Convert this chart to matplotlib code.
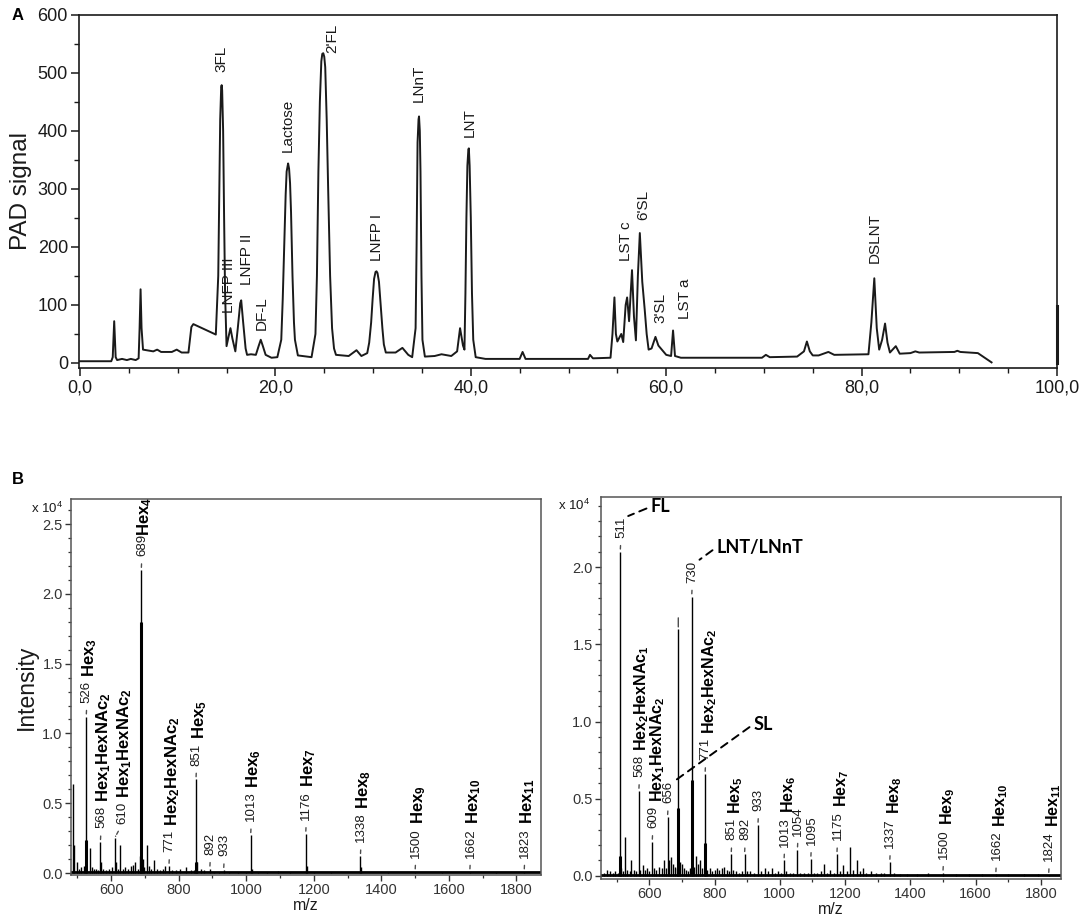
import matplotlib
matplotlib.use("Agg")
import matplotlib.pyplot as plt
from matplotlib.ticker import MultipleLocator, FuncFormatter

plt.rcParams["font.family"] = ["Liberation Sans", "DejaVu Sans"]
plt.rcParams["mathtext.fontset"] = "custom"
plt.rcParams["mathtext.rm"] = "Liberation Sans"
plt.rcParams["mathtext.bf"] = "Liberation Sans:bold"
plt.rcParams["mathtext.it"] = "Liberation Sans:italic"

# ===== A: HPAEC-PAD chromatogram =====
rt = [0, 3.2, 3.35, 3.5, 3.65, 3.8, 4.3, 4.8, 5.2, 5.7, 6.0, 6.1, 6.2, 6.3, 6.45,
      7.5, 7.9, 8.3, 9.4, 9.9, 10.4, 11.1, 11.4, 11.6, 13.0, 13.9,
      14.15, 14.25, 14.35, 14.45, 14.5, 14.55, 14.65, 14.75, 14.85, 15.0,
      15.2, 15.4, 15.6, 15.9, 16.15, 16.4, 16.5, 16.7, 16.95, 17.1, 17.5, 18.0,
      18.3, 18.5, 18.7, 19.0, 19.6, 20.2, 20.6, 20.75, 20.9, 21.05, 21.15, 21.3,
      21.4, 21.5, 21.6, 21.75, 21.9, 22.0, 22.3, 23.7,
      24.1, 24.25, 24.4, 24.55, 24.7, 24.8, 24.9, 25.0, 25.1, 25.25, 25.4, 25.6,
      25.8, 26.0, 26.2, 27.5, 28.3, 28.8,
      29.4, 29.6, 29.8, 29.95, 30.1, 30.25, 30.35, 30.45, 30.6, 30.8, 30.95, 31.1,
      31.3, 32.3, 33.0, 33.6, 34.0,
      34.35, 34.45, 34.55, 34.65, 34.7, 34.78, 34.85, 34.95, 35.05, 35.3, 36.3,
      37.0, 38.0, 38.6, 38.9, 39.2, 39.35, 39.45, 39.55, 39.65, 39.75, 39.8,
      39.88, 40.0, 40.12, 40.25, 40.5, 41.5, 45.0, 45.3, 45.6,
      52.0, 52.2, 52.5, 54.3, 54.5, 54.7, 54.85, 55.0, 55.4, 55.6, 55.85,
      56.0, 56.2, 56.5, 56.7, 56.9, 57.1, 57.3, 57.55, 57.8, 58.0, 58.2,
      58.5, 58.9, 59.2, 59.4, 60.0, 60.5, 60.7, 60.9, 61.5, 69.8, 70.2,
      70.6, 73.4, 74.1, 74.4, 74.7, 75.0, 75.6, 76.6, 77.2, 80.7, 81.0,
      81.3, 81.55, 81.8, 82.1, 82.4, 82.65, 82.9, 83.5, 83.9, 85.0, 85.5,
      85.9, 89.5, 89.8, 90.1, 91.9, 93.3]
pad = [3, 3, 10, 72, 10, 5, 7, 5, 7, 5, 8, 60, 127, 60, 23,
       20, 23, 19, 19, 23, 18, 18, 62, 67, 56, 49,
       150, 280, 420, 475, 479, 470, 400, 250, 120, 29,
       45, 60, 42, 20, 60, 103, 108, 70, 25, 14, 15, 14,
       30, 40, 30, 14, 9, 10, 40, 110, 200, 290, 330, 344,
       335, 310, 260, 150, 70, 40, 13, 10,
       50, 150, 330, 450, 520, 533, 534, 528, 510, 420, 300, 150,
       60, 25, 14, 12, 22, 12,
       17, 35, 70, 110, 145, 157, 158, 155, 140, 95, 60, 32,
       18, 18, 26, 14, 10,
       60, 200, 380, 420, 425, 400, 330, 150, 40, 11, 12,
       15, 12, 20, 60, 30, 23, 120, 250, 340, 368, 370,
       340, 250, 120, 40, 10, 7, 7, 19, 7,
       7, 14, 8, 9, 50, 113, 50, 37, 50, 36, 100,
       113, 72, 160, 80, 39, 150, 224, 140, 92, 50, 23,
       25, 45, 30, 26, 14, 12, 56, 12, 9, 9, 14,
       10, 11, 20, 37, 20, 13, 13, 19, 14, 15, 70,
       146, 60, 23, 40, 68, 35, 18, 29, 16, 17, 20,
       18, 19, 21, 19, 17, 1]
end_mark_rt = [100, 100]
end_mark_pad = [0, 98]

peak_names = ["3FL", "LNFP III", "LNFP II", "DF-L", "Lactose", "2'FL", "LNFP I",
              "LNnT", "LNT", "LST c", "6'SL", "3'SL", "LST a", "DSLNT"]
peak_label_rt = [14.5, 15.2, 17.1, 18.65, 21.3, 25.8, 30.4, 34.7, 39.9,
                 55.9, 57.7, 59.4, 61.9, 81.3]
peak_label_pad = [502, 86, 135, 57, 364, 534, 175, 450, 390,
                  175, 247, 69, 75, 172]

# ===== B: MALDI spectra (x 10^4) =====
left_mz = [488, 490, 500, 505, 512, 520, 526, 537, 543, 550, 556, 562, 568, 571,
           577, 585, 595, 603, 610, 613, 620, 627, 634, 642, 650, 658, 665, 672,
           680, 685, 689, 693, 698, 705, 711, 718, 727, 735, 745, 752, 760, 771,
           780, 792, 805, 822, 835, 845, 851, 855, 865, 875, 892, 905, 920, 933,
           950, 975, 1000, 1013, 1017, 1035, 1060, 1095, 1130, 1176, 1179, 1200,
           1250, 1338, 1341, 1420, 1500, 1580, 1662, 1740, 1823]
left_int = [0.64, 0.20, 0.08, 0.03, 0.04, 0.05, 1.12, 0.18, 0.04, 0.03, 0.03, 0.02,
            0.22, 0.08, 0.03, 0.02, 0.03, 0.04, 0.25, 0.08, 0.03, 0.20, 0.03, 0.04,
            0.03, 0.05, 0.06, 0.08, 0.03, 0.12, 2.17, 0.10, 0.04, 0.20, 0.05, 0.03,
            0.09, 0.03, 0.02, 0.03, 0.05, 0.05, 0.02, 0.02, 0.03, 0.04, 0.02, 0.02,
            0.67, 0.08, 0.03, 0.02, 0.03, 0.01, 0.01, 0.02, 0.01, 0.01, 0.01, 0.27,
            0.03, 0.01, 0.01, 0.015, 0.01, 0.28, 0.05, 0.01, 0.01, 0.12, 0.04, 0.01,
            0.01, 0.01, 0.01, 0.005, 0.01]
left_core_mz = [526, 689, 851]
left_core_int = [0.24, 1.80, 0.08]
left_lab_mz = [526, 568, 610, 689, 771, 851, 892, 933, 1013, 1176, 1338, 1500, 1662, 1823]
left_lab_name = [r"$\mathbf{Hex_3}$", r"$\mathbf{Hex_1HexNAc_2}$", r"$\mathbf{Hex_1HexNAc_2}$",
                 r"$\mathbf{Hex_4}$", r"$\mathbf{Hex_2HexNAc_2}$", r"$\mathbf{Hex_5}$", "", "",
                 r"$\mathbf{Hex_6}$", r"$\mathbf{Hex_7}$", r"$\mathbf{Hex_8}$", r"$\mathbf{Hex_9}$",
                 r"$\mathbf{Hex_{10}}$", r"$\mathbf{Hex_{11}}$"]

right_mz = [462, 470, 480, 488, 495, 503, 511, 514, 520, 527, 533, 540, 545, 552, 560,
            568, 572, 580, 587, 593, 600, 609, 615, 622, 630, 638, 644, 650, 656, 662,
            667, 672, 678, 684, 689, 695, 700, 706, 712, 718, 724, 730, 736, 742, 748,
            755, 762, 771, 777, 785, 793, 800, 808, 815, 822, 830, 838, 845, 851, 858,
            866, 875, 884, 892, 900, 910, 920, 933, 942, 955, 965, 975, 985, 995, 1005,
            1013, 1020, 1030, 1040, 1054, 1062, 1075, 1085, 1095, 1105, 1115, 1125, 1135,
            1145, 1155, 1165, 1175, 1185, 1195, 1205, 1216, 1225, 1237, 1245, 1255, 1265,
            1280, 1295, 1310, 1320, 1337, 1350, 1370, 1390, 1420, 1455, 1500, 1540, 1580,
            1620, 1662, 1700, 1750, 1790, 1824]
right_int = [0.02, 0.04, 0.03, 0.02, 0.03, 0.02, 2.10, 0.05, 0.03, 0.25, 0.04, 0.03,
             0.10, 0.04, 0.03, 0.55, 0.04, 0.07, 0.04, 0.05, 0.03, 0.22, 0.05, 0.04,
             0.06, 0.05, 0.10, 0.05, 0.38, 0.10, 0.12, 0.08, 0.06, 0.05, 1.60, 0.09,
             0.08, 0.05, 0.04, 0.03, 0.05, 1.81, 0.06, 0.13, 0.08, 0.10, 0.05, 0.66,
             0.04, 0.05, 0.03, 0.04, 0.05, 0.04, 0.05, 0.06, 0.04, 0.03, 0.14, 0.04,
             0.03, 0.02, 0.03, 0.14, 0.03, 0.03, 0.02, 0.33, 0.03, 0.05, 0.03, 0.05,
             0.02, 0.03, 0.02, 0.10, 0.03, 0.02, 0.02, 0.17, 0.02, 0.02, 0.02, 0.11,
             0.02, 0.02, 0.03, 0.08, 0.02, 0.04, 0.02, 0.14, 0.03, 0.07, 0.03, 0.19,
             0.04, 0.10, 0.03, 0.05, 0.02, 0.03, 0.02, 0.02, 0.02, 0.09, 0.02, 0.01,
             0.015, 0.01, 0.02, 0.02, 0.015, 0.01, 0.01, 0.01, 0.01, 0.01, 0.01, 0.005]
right_core_mz = [511, 689, 730, 771]
right_core_int = [0.13, 0.44, 0.62, 0.21]
right_lab_mz = [511, 568, 609, 656, 730, 771, 851, 892, 933, 1013, 1054, 1095,
                1175, 1337, 1500, 1662, 1824]
right_lab_name = ["", r"$\mathbf{Hex_2HexNAc_1}$", r"$\mathbf{Hex_1HexNAc_2}$", "", "",
                  r"$\mathbf{Hex_2HexNAc_2}$", r"$\mathbf{Hex_5}$", "", "", r"$\mathbf{Hex_6}$",
                  "", "", r"$\mathbf{Hex_7}$", r"$\mathbf{Hex_8}$", r"$\mathbf{Hex_9}$",
                  r"$\mathbf{Hex_{10}}$", r"$\mathbf{Hex_{11}}$"]
right_mark_mz = [689]
callout_mz = [511, 730, 656]
callout_text = ["FL", "LNT/LNnT", "SL"]
baseline_level = 0.006

# ===== 绘图 =====
fig = plt.figure(figsize=(10.84, 9.16), dpi=100)
ink = "#1a1a1a"

axA = fig.add_axes([0.0729, 0.5983, 0.9022, 0.3854])
axA.plot(rt, pad, color=ink, lw=1.4)
axA.plot(end_mark_rt, end_mark_pad, color=ink, lw=2.2, clip_on=False)
for name, t, y in zip(peak_names, peak_label_rt, peak_label_pad):
    axA.text(t, y, name, rotation=90, ha="center", va="bottom", fontsize=11, color=ink)
axA.set_xlim(-0.1, 100)
axA.set_ylim(-8.6, 600)
axA.xaxis.set_major_locator(MultipleLocator(20))
axA.xaxis.set_minor_locator(MultipleLocator(5))
axA.yaxis.set_major_locator(MultipleLocator(100))
axA.yaxis.set_minor_locator(MultipleLocator(50))
axA.xaxis.set_major_formatter(FuncFormatter(lambda v, p: f"{v:.1f}".replace(".", ",")))
axA.tick_params(which="major", length=6, width=1.1, labelsize=13, pad=2, colors=ink)
axA.tick_params(which="minor", length=3.5, width=1.0, colors=ink)
axA.set_ylabel("PAD signal", fontsize=17.5, color=ink)
axA.yaxis.set_label_coords(-0.048, 0.5)
for s in axA.spines.values():
    s.set_linewidth(1.2)
    s.set_color(ink)
fig.text(0.011, 0.983, "A", fontsize=12, fontweight="bold", va="center")
fig.text(0.011, 0.477, "B", fontsize=12, fontweight="bold", va="center")


def spectrum(ax, mz, inten, core_mz, core_int, lab_mz, lab_name, name_dx, name_size,
             xlim, ylim, num_dx=None, name_gap=None, name_shift=None):
    num_dx = num_dx or {}
    name_gap = name_gap or {}
    name_shift = name_shift or {}
    ax.vlines(mz, 0, inten, color="black", lw=1.0)
    ax.vlines(core_mz, 0, core_int, color="black", lw=2.2)
    ax.plot(xlim, [baseline_level, baseline_level], color="black", lw=2.0)
    lookup = dict(zip(mz, inten))
    nums = {}
    for m, name in zip(lab_mz, lab_name):
        t = ax.annotate(str(m), xy=(m, lookup[m]), xytext=(0.5 + num_dx.get(m, 0), 10),
                        textcoords="offset points",
                        rotation=90, ha="center", va="bottom", fontsize=9.5, color=ink,
                        arrowprops=dict(arrowstyle="-", lw=1.0, color="0.3",
                                        linestyle=(0, (2.5, 1.5)), shrinkA=3.5, shrinkB=1.5,
                                        relpos=(0.5, 0)))
        nums[m] = t
        if name:
            ax.annotate(name, xy=(0.5, 1), xycoords=t,
                        xytext=(name_dx + name_shift.get(m, 0), name_gap.get(m, 3)),
                        textcoords="offset points", rotation=90, ha="center", va="bottom",
                        fontsize=name_size, color="black")
    ax.set_xlim(*xlim)
    ax.set_ylim(*ylim)
    ax.xaxis.set_major_locator(MultipleLocator(200))
    ax.xaxis.set_minor_locator(MultipleLocator(100))
    ax.yaxis.set_major_locator(MultipleLocator(0.5))
    ax.yaxis.set_minor_locator(MultipleLocator(0.1))
    ax.yaxis.set_major_formatter(FuncFormatter(lambda v, p: f"{v:.1f}"))
    ax.tick_params(which="major", length=4, width=1.0, labelsize=10.5, pad=2, colors="#333333")
    ax.tick_params(which="minor", length=2.5, width=0.9, colors="#333333")
    ax.set_xlabel("m/z", fontsize=11.5, color=ink)
    for s in ax.spines.values():
        s.set_linewidth(1.1)
        s.set_color("#555555")
    return nums


axL = fig.add_axes([0.0655, 0.0448, 0.4336, 0.4105])
spectrum(axL, left_mz, left_int, left_core_mz, left_core_int, left_lab_mz, left_lab_name,
         2, 12, (481, 1873), (-0.014, 2.68), num_dx={610: 5}, name_gap={689: -1.5})
axL.set_ylabel("Intensity", fontsize=16.5, color=ink)
axL.yaxis.set_label_coords(-0.07, 0.5)
axL.xaxis.set_label_coords(0.5, -0.06)
axL.text(-0.017, 0.976, r"x 10$^4$", transform=axL.transAxes, ha="right", va="center",
         fontsize=9.5, color=ink)

axR = fig.add_axes([0.5544, 0.0404, 0.4244, 0.4170])
numsR = spectrum(axR, right_mz, right_int, right_core_mz, right_core_int, right_lab_mz,
                 right_lab_name, 3, 11.5, (452, 1862), (-0.02, 2.455),
                 name_shift={568: -1.5, 609: 0.5})
lookupR = dict(zip(right_mz, right_int))
for m in right_mark_mz:
    axR.annotate("", xy=(m, lookupR[m]), xytext=(0, 8), textcoords="offset points",
                 arrowprops=dict(arrowstyle="-", lw=1.0, color="0.3", shrinkA=0, shrinkB=1.5))
callout_offset = [(17, 7), (13, 9.5), (57, 41)]
for m, txt, off in zip(callout_mz, callout_text, callout_offset):
    axR.annotate(txt, xy=(1, 1), xycoords=numsR[m], xytext=off, textcoords="offset points",
                 ha="left", va="center", fontsize=13, fontweight="bold",
                 family=["Lato", "DejaVu Sans"],
                 arrowprops=dict(arrowstyle="-", lw=1.4, color="black",
                                 linestyle=(0, (4, 3)), shrinkA=1, shrinkB=1,
                                 relpos=(0, 0.5)))
axR.xaxis.set_label_coords(0.5, -0.06)
axR.text(-0.024, 0.979, r"x 10$^4$", transform=axR.transAxes, ha="right", va="center",
         fontsize=9.5, color=ink)

fig.savefig("out.png", dpi=100)
plt.close(fig)
print("saved out.png")
